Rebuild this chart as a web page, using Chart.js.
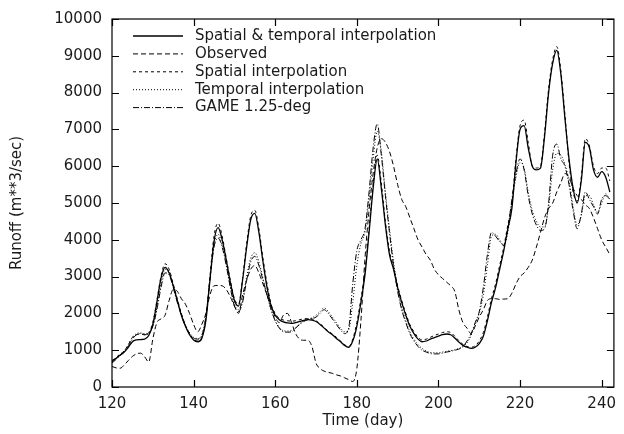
<!DOCTYPE html>
<html>
<head>
<meta charset="utf-8">
<title>Runoff</title>
<script src="https://cdn.jsdelivr.net/npm/chart.js@4.4.0/dist/chart.umd.min.js"></script>
<style>
  html, body { margin: 0; padding: 0; background: #fff; }
</style>
</head>
<body>
<canvas id="runoff-chart" width="624" height="434"></canvas>
<script>
// Daily runoff, day 120 .. 242
const spatialTemporal = [
  700, 780, 870, 950, 1080, 1230, 1280, 1290, 1300, 1400,
  1700, 2300, 2950, 3250, 3100, 2750, 2350, 1950, 1650, 1420,
  1280, 1230, 1320, 1800, 2900, 3950, 4330, 4000, 3450, 2850,
  2350, 2200, 2900, 3800, 4550, 4720, 4200, 3400, 2700, 2200,
  1950, 1830, 1770, 1740, 1730, 1750, 1780, 1810, 1830, 1820,
  1780, 1700, 1600, 1500, 1420, 1320, 1230, 1130, 1080, 1250,
  1650, 2300, 3050, 4200, 5400, 6200, 5400, 4400, 3600, 3200,
  2700, 2300, 1950, 1650, 1450, 1300, 1230, 1250, 1300, 1340,
  1380, 1420, 1440, 1420, 1330, 1220, 1130, 1080, 1050, 1080,
  1180, 1380, 1800, 2300, 2700, 3200, 3700, 4300, 4850, 6100,
  7000, 7100, 6500, 6000, 5900, 5950, 6800, 8000, 8800, 9150,
  8500, 7300, 6200, 5400, 5000, 5600, 6650, 6500, 5900, 5700,
  5850, 5700, 5300
];
const observed = [
  560, 520, 510, 600, 720, 830, 900, 920, 820, 680,
  1300, 1750, 1850, 1950, 2350, 2650, 2600, 2400, 2250, 2000,
  1700, 1500, 1700, 2000, 2500, 2750, 2760, 2750, 2650, 2450,
  2200, 2000, 2500, 2900, 3200, 3300, 3100, 2800, 2500, 2200,
  1900, 1750, 1950, 2000, 1750, 1450, 1300, 1270, 1270, 1100,
  650, 500, 430, 400, 370, 330, 300, 250, 200, 150,
  500, 1800, 3500, 4800, 5800, 6500, 6750, 6650, 6400, 6000,
  5500, 5100, 4900, 4600, 4300, 4000, 3800, 3600, 3450, 3200,
  3050, 2950, 2850, 2750, 2600, 2100, 1750, 1600, 1450, 1650,
  1900, 2100, 2350, 2400, 2400, 2380, 2390, 2400, 2550, 2800,
  3000, 3100, 3250, 3450, 3800, 4200, 4600, 4850, 5000, 5300,
  5550, 5800, 5700, 5400, 5200, 5100, 4950, 4850, 4600, 4300,
  4000, 3800, 3600
];
const spatialOnly = [
  720, 800, 900, 980, 1150, 1350, 1420, 1440, 1420, 1480,
  1750, 2350, 3000, 3350, 3200, 2800, 2400, 2000, 1680, 1450,
  1300, 1250, 1350, 1850, 3000, 4100, 4450, 4100, 3500, 2900,
  2400, 2250, 2950, 3900, 4650, 4800, 4300, 3500, 2800, 2250,
  2000, 1870, 1820, 1800, 1790, 1800, 1830, 1850, 1860, 1850,
  1800, 1720, 1620, 1520, 1440, 1350, 1250, 1150, 1100, 1300,
  1750, 2400, 3150, 4300, 5500, 6300, 5550, 4500, 3700, 3250,
  2750, 2350, 2000, 1700, 1500, 1350, 1280, 1300, 1350, 1400,
  1440, 1480, 1500, 1480, 1380, 1260, 1160, 1100, 1080, 1120,
  1250, 1480, 1900, 2400, 2800, 3300, 3800, 4400, 5000, 6200,
  7100, 7250, 6650, 6000, 5950, 6000, 6900, 8100, 8900, 9250,
  8600, 7400, 6100, 5300, 5050, 5700, 6750, 6550, 6000, 5800,
  5950, 5950, 5600
];
const temporalOnly = [
  680, 770, 880, 980, 1150, 1350, 1450, 1470, 1450, 1470,
  1650, 2150, 2800, 3200, 3150, 2750, 2350, 1980, 1680, 1480,
  1350, 1320, 1400, 1950, 2950, 3850, 4150, 3850, 3350, 2750,
  2250, 2100, 2350, 3000, 3500, 3650, 3400, 2950, 2500, 2100,
  1800, 1620, 1530, 1520, 1540, 1620, 1720, 1800, 1850, 1880,
  1950, 2050, 2150, 2050, 1900, 1750, 1600, 1500, 1550, 2300,
  3300, 3900, 4200, 5100, 6200, 6950, 6400, 5300, 4300, 3400,
  2700, 2150, 1800, 1500, 1300, 1150, 1050, 980, 940, 930,
  930, 950, 970, 990, 1010, 1050, 1100, 1200, 1400, 1700,
  2000, 2500, 3300, 4100, 4150, 4000, 3850, 4200, 5000, 5700,
  6100, 5950, 5300, 4800, 4500, 4350, 4350, 4900, 5900, 6350,
  6300, 6050, 5600, 4900, 4400, 4650, 5200, 5200, 4950, 4750,
  5000, 5250, 5100
];
const game125 = [
  650, 750, 850, 950, 1100, 1300, 1420, 1450, 1420, 1450,
  1650, 2100, 2700, 3100, 3050, 2700, 2300, 1950, 1650, 1450,
  1330, 1300, 1400, 1900, 2900, 3800, 4050, 3800, 3300, 2700,
  2200, 2050, 2300, 2900, 3400, 3550, 3300, 2900, 2500, 2100,
  1800, 1600, 1500, 1490, 1500, 1600, 1700, 1780, 1830, 1850,
  1900, 2000, 2100, 2000, 1850, 1700, 1550, 1450, 1600, 2800,
  3700, 4000, 4300, 5300, 6500, 7150, 6300, 5200, 4200, 3300,
  2600, 2100, 1750, 1450, 1250, 1100, 1000, 950, 910, 900,
  900, 920, 950, 970, 1000, 1030, 1100, 1250, 1450, 1750,
  2050, 2700, 3600, 4200, 4100, 3950, 3850, 4300, 5100, 5800,
  6200, 5900, 5200, 4700, 4400, 4250, 4300, 5000, 6300, 6600,
  6200, 6000, 5500, 4800, 4300, 4700, 5300, 5100, 4900, 4700,
  5100, 5200, 5100
];
const days = spatialTemporal.map((_, i) => 120 + i);

const seriesNames = [
  'Spatial & temporal interpolation',
  'Observed',
  'Spatial interpolation',
  'Temporal interpolation',
  'GAME 1.25-deg'
];
const seriesValues = [spatialTemporal, observed, spatialOnly, temporalOnly, game125];
const seriesDash = [[], [5, 3], [3, 3], [1, 2], [6, 2, 1, 2]];

const xTicks = [120, 140, 160, 180, 200, 220, 240];
const yTicks = [0, 1000, 2000, 3000, 4000, 5000, 6000, 7000, 8000, 9000, 10000];

const FONT = 'DejaVu Sans';
const INK = '#1a1a1a';

// gnuplot-like frame: box, inward ticks on every side, key in the top-left corner
const frameAndKey = {
    id: 'frameAndKey',
    afterDatasetsDraw(chart) {
        const { ctx, chartArea: a, scales: { x, y } } = chart;
        ctx.save();
        ctx.strokeStyle = '#000';
        ctx.lineWidth = 1.2;
        ctx.setLineDash([]);
        ctx.beginPath();
        xTicks.forEach(v => {
            const px = Math.round(x.getPixelForValue(v)) + 0.5;
            ctx.moveTo(px, a.bottom); ctx.lineTo(px, a.bottom - 7);
            ctx.moveTo(px, a.top); ctx.lineTo(px, a.top + 7);
        });
        yTicks.forEach(v => {
            const py = Math.round(y.getPixelForValue(v)) + 0.5;
            ctx.moveTo(a.left, py); ctx.lineTo(a.left + 7, py);
            ctx.moveTo(a.right, py); ctx.lineTo(a.right - 7, py);
        });
        ctx.stroke();
        ctx.strokeRect(a.left, a.top, a.right - a.left, a.bottom - a.top);

        // key
        ctx.font = `15px "${FONT}"`;
        ctx.fillStyle = INK;
        ctx.textBaseline = 'middle';
        ctx.textAlign = 'left';
        chart.data.datasets.forEach((ds, i) => {
            const ly = a.top + 17 + i * 17.9;
            ctx.beginPath();
            ctx.lineWidth = ds.borderWidth;
            ctx.setLineDash(ds.borderDash);
            ctx.moveTo(a.left + 21, ly);
            ctx.lineTo(a.left + 71, ly);
            ctx.stroke();
            ctx.setLineDash([]);
            ctx.fillText(ds.label, a.left + 83, ly);
        });
        ctx.restore();
    }
};

const ctx = document.getElementById('runoff-chart').getContext('2d');
new Chart(ctx, {
    type: 'line',
    data: {
        datasets: seriesNames.map((name, i) => ({
            label: name,
            data: days.map((d, k) => ({ x: d, y: seriesValues[i][k] })),
            borderColor: '#000',
            borderWidth: i === 0 ? 1.3 : 1,
            borderDash: seriesDash[i],
            pointRadius: 0,
            fill: false,
            cubicInterpolationMode: 'monotone'
        }))
    },
    options: {
        responsive: false,
        animation: false,
        devicePixelRatio: 1,
        layout: { padding: { top: 15, right: 1, left: 0, bottom: 0 } },
        plugins: { legend: { display: false }, tooltip: { enabled: false } },
        scales: {
            x: {
                type: 'linear',
                min: 120,
                max: 243,
                afterBuildTicks: scale => { scale.ticks = xTicks.map(v => ({ value: v })); },
                afterFit: scale => { scale.height = 47; },
                grid: { display: false, drawTicks: false },
                border: { display: false },
                ticks: { color: INK, font: { family: FONT, size: 15 }, padding: 8, maxRotation: 0, callback: v => String(v) },
                title: { display: true, text: 'Time (day)', color: INK, font: { family: FONT, size: 15 }, padding: { top: 0, bottom: 4 } }
            },
            y: {
                min: 0,
                max: 10000,
                afterBuildTicks: scale => { scale.ticks = yTicks.map(v => ({ value: v })); },
                afterFit: scale => { scale.width = 112; },
                grid: { display: false, drawTicks: false },
                border: { display: false },
                ticks: { color: INK, font: { family: FONT, size: 15 }, padding: 10, callback: v => String(v) },
                title: { display: true, text: 'Runoff (m**3/sec)', color: INK, font: { family: FONT, size: 15 }, padding: { top: 8, bottom: 0 } }
            }
        }
    },
    plugins: [frameAndKey]
});
</script>
</body>
</html>
